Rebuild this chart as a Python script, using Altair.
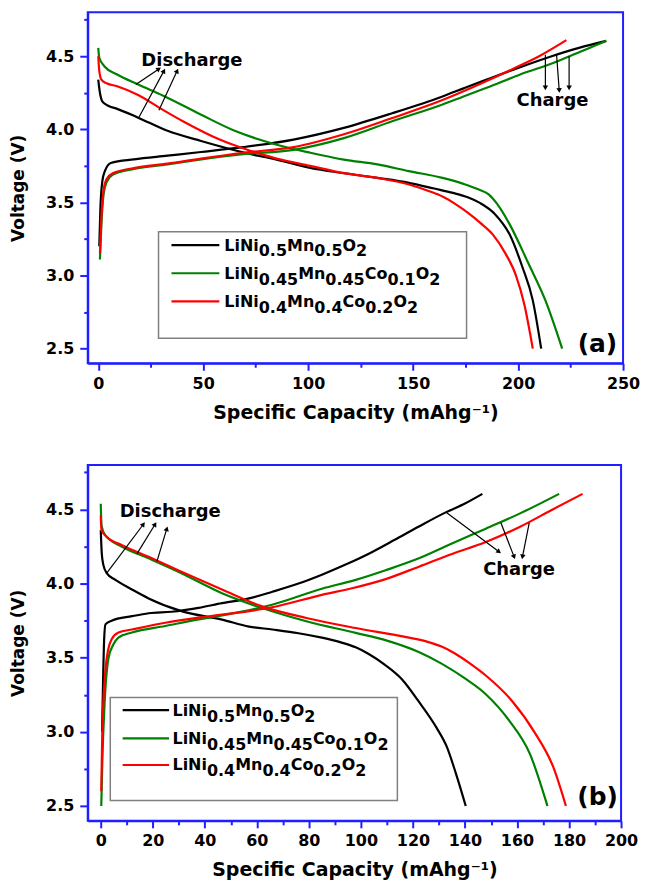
import math
import altair as alt
import pandas as pd

FONT = "DejaVu Sans"
BLUE = "#1f1fff"
NAMES = ["LiNi0.5Mn0.5O2", "LiNi0.45Mn0.45Co0.1O2", "LiNi0.4Mn0.4Co0.2O2"]
COLORS = ["#000000", "#008000", "#ff0000"]

# ---------------- panel (a) ----------------
a_blk_dis_cap = [0, 0.8, 2, 5, 9, 19, 33, 49, 65, 76, 85, 101, 117, 133, 148, 160, 169, 176, 182, 189, 196, 202, 207, 211]
a_blk_dis_v = [4.34, 4.25, 4.19, 4.16, 4.14, 4.08, 3.99, 3.92, 3.857, 3.82, 3.793, 3.736, 3.70, 3.668, 3.634, 3.595, 3.565, 3.535, 3.495, 3.42, 3.28, 3.06, 2.83, 2.5]
a_grn_dis_cap = [0, 0.5, 3, 9, 19, 31, 49, 65, 85, 101, 117, 133, 148, 164, 174, 181, 186, 190, 196, 205, 213, 221]
a_grn_dis_v = [4.557, 4.49, 4.43, 4.375, 4.307, 4.23, 4.10, 3.99, 3.895, 3.84, 3.793, 3.76, 3.714, 3.668, 3.627, 3.59, 3.555, 3.49, 3.35, 3.08, 2.83, 2.5]
a_red_dis_cap = [0, 0.5, 1.5, 4, 9, 19, 30, 41, 57, 72, 85, 101, 117, 133, 148, 158, 164, 170, 176, 182, 188, 194, 199, 203, 207]
a_red_dis_v = [4.5, 4.40, 4.34, 4.315, 4.295, 4.235, 4.14, 4.05, 3.935, 3.855, 3.80, 3.75, 3.70, 3.668, 3.623, 3.575, 3.54, 3.49, 3.43, 3.36, 3.28, 3.15, 3.0, 2.80, 2.5]
a_blk_chg_cap = [0.5, 1, 2, 3.2, 6, 17, 33, 49, 69, 93, 117, 140, 164, 174, 185, 200, 216, 229, 242]
a_blk_chg_v = [3.2, 3.45, 3.65, 3.716, 3.77, 3.795, 3.82, 3.845, 3.878, 3.93, 4.01, 4.11, 4.225, 4.28, 4.34, 4.42, 4.50, 4.557, 4.605]
a_grn_chg_cap = [0.8, 1.5, 2.5, 4, 7, 17, 33, 49, 69, 93, 117, 140, 164, 174, 185, 201, 217, 232, 242]
a_grn_chg_v = [3.11, 3.35, 3.55, 3.64, 3.69, 3.73, 3.76, 3.795, 3.83, 3.86, 3.94, 4.055, 4.17, 4.225, 4.284, 4.375, 4.455, 4.545, 4.605]
a_red_chg_cap = [0.8, 1.5, 2.5, 4, 7, 17, 33, 49, 69, 93, 117, 140, 164, 174, 185, 197, 210, 223]
a_red_chg_v = [3.15, 3.4, 3.58, 3.66, 3.70, 3.735, 3.765, 3.80, 3.84, 3.878, 3.966, 4.077, 4.20, 4.26, 4.33, 4.41, 4.5, 4.61]

a_arrow_x0 = [17.9, 19.4, 28.9, 213, 218.3, 224.3]
a_arrow_y0 = [4.306, 4.083, 4.13, 4.51, 4.515, 4.50]
a_arrow_x1 = [28.9, 31.3, 37.6, 213, 219.6, 224.3]
a_arrow_y1 = [4.413, 4.40, 4.40, 4.284, 4.266, 4.284]
a_labels = ["Discharge", "Charge", "(a)"]
a_label_x = [44.6, 216.4, 237.8]
a_label_y = [4.466, 4.197, 2.53]

# ---------------- panel (b) ----------------
b_blk_dis_cap = [0, 0.4, 1, 2.3, 5.5, 12, 18.4, 31, 46.6, 57, 66, 76, 85, 92, 98, 103, 109, 116, 122, 129, 133, 136.5, 140.3]
b_blk_dis_v = [4.36, 4.2, 4.126, 4.07, 4.026, 3.96, 3.90, 3.814, 3.757, 3.71, 3.69, 3.665, 3.635, 3.605, 3.57, 3.525, 3.455, 3.35, 3.21, 3.03, 2.90, 2.72, 2.5]
b_grn_dis_cap = [0, 0.3, 1.7, 8, 18.4, 31, 46.6, 62, 79, 98, 110, 122, 131, 140, 148, 157, 165, 171.7]
b_grn_dis_v = [4.538, 4.39, 4.326, 4.25, 4.17, 4.07, 3.935, 3.835, 3.746, 3.667, 3.615, 3.54, 3.46, 3.36, 3.254, 3.076, 2.85, 2.5]
b_red_dis_cap = [0, 0.3, 2.3, 8, 18.4, 31, 46.6, 62, 79, 98, 117, 126, 131, 136, 142, 148, 158, 167, 174, 178.8]
b_red_dis_v = [4.46, 4.36, 4.315, 4.26, 4.18, 4.08, 3.96, 3.846, 3.768, 3.70, 3.64, 3.605, 3.575, 3.53, 3.46, 3.38, 3.21, 2.99, 2.76, 2.5]
b_blk_chg_cap = [0.5, 0.9, 1.3, 1.8, 4.2, 12, 18.4, 27.3, 37.6, 46.6, 57, 66, 76, 85, 95, 104, 113, 122.3, 132.6, 140, 146.7]
b_blk_chg_v = [3.0, 3.35, 3.62, 3.725, 3.75, 3.78, 3.80, 3.81, 3.836, 3.868, 3.90, 3.945, 4.0, 4.06, 4.135, 4.21, 4.295, 4.385, 4.48, 4.54, 4.605]
b_grn_chg_cap = [0.2, 0.6, 1.5, 3, 4.9, 6.8, 12, 24.8, 37.6, 46.6, 65.8, 85, 98, 109.5, 122.3, 135, 148, 160.8, 176.2]
b_grn_chg_v = [2.5, 2.8, 3.2, 3.5, 3.59, 3.636, 3.67, 3.714, 3.758, 3.785, 3.857, 3.965, 4.025, 4.09, 4.17, 4.27, 4.37, 4.47, 4.605]
b_red_chg_cap = [0.2, 0.6, 1.5, 2.8, 4.2, 6.8, 12, 24.8, 37.6, 46.6, 65.8, 85, 97, 109.5, 122.3, 135, 148, 160.8, 173.7, 185.2]
b_red_chg_v = [2.6, 3.0, 3.35, 3.55, 3.625, 3.67, 3.69, 3.736, 3.77, 3.79, 3.84, 3.924, 3.97, 4.03, 4.114, 4.20, 4.28, 4.38, 4.50, 4.605]

b_arrow_x0 = [2.3, 13.9, 21.6, 132.6, 153.8, 164.7]
b_arrow_y0 = [4.07, 4.20, 4.15, 4.483, 4.41, 4.41]
b_arrow_x1 = [16.4, 20.9, 25.4, 153.1, 158.9, 162.1]
b_arrow_y1 = [4.40, 4.40, 4.37, 4.214, 4.18, 4.18]
b_labels = ["Discharge", "Charge", "(b)"]
b_label_x = [26.7, 160.8, 191]
b_label_y = [4.483, 4.09, 2.56]

# legend entries: (text, is_subscript)
LEGEND_SEGMENTS = [
    [("LiNi", 0), ("0.5", 1), ("Mn", 0), ("0.5", 1), ("O", 0), ("2", 1)],
    [("LiNi", 0), ("0.45", 1), ("Mn", 0), ("0.45", 1), ("Co", 0), ("0.1", 1), ("O", 0), ("2", 1)],
    [("LiNi", 0), ("0.4", 1), ("Mn", 0), ("0.4", 1), ("Co", 0), ("0.2", 1), ("O", 0), ("2", 1)],
]
# DejaVu Sans Bold advance widths (em)
CW = {"L": 0.637, "i": 0.343, "N": 0.837, "M": 0.995, "n": 0.712, "O": 0.850,
      "C": 0.733, "o": 0.687, ".": 0.381}
for d in "0123456789":
    CW[d] = 0.696

Y_MAJOR = [2.5, 3.0, 3.5, 4.0, 4.5]
Y_MINOR = [2.75, 3.25, 3.75, 4.25, 4.75]
X_TITLE = "Specific Capacity (mAhg\u207b\u00b9)"


def panel(curves, xdom, xmajor, xminor, W, H, arrows, labels, leg):
    xs = alt.Scale(domain=xdom, nice=False, zero=False)
    ys = alt.Scale(domain=[2.4, 4.8], nice=False, zero=False)
    rows = []
    for name, kind, caps, vs in curves:
        for i, (c, v) in enumerate(zip(caps, vs)):
            rows.append({"cap": c, "v": v, "series": name, "curve": name + kind, "i": i})
    df = pd.DataFrame(rows)

    lines = alt.Chart(df).mark_line(strokeWidth=2.2, interpolate="monotone").encode(
        x=alt.X("cap:Q", scale=xs, axis=alt.Axis(
            orient="bottom", values=xmajor, format="d", title=X_TITLE, labelFlush=False,
            tickSize=7, labelPadding=5, titlePadding=12)),
        y=alt.Y("v:Q", scale=ys, axis=alt.Axis(
            orient="left", values=Y_MAJOR, format=".1f", title="Voltage (V)", tickSize=8,
            labelPadding=6, titlePadding=18, titleFontSize=17)),
        color=alt.Color("series:N", scale=alt.Scale(domain=NAMES, range=COLORS), legend=None),
        detail="curve:N",
        order="i:Q",
    )

    ax0, ay0, ax1, ay1 = arrows
    sx = W / (xdom[1] - xdom[0])
    sy = H / 2.4
    angs = []
    for a, b, c, d in zip(ax0, ay0, ax1, ay1):
        ang = math.degrees(math.atan2((c - a) * sx, (d - b) * sy)) % 360
        angs.append(ang)
    adf = pd.DataFrame({"x0": ax0, "y0": ay0, "x1": ax1, "y1": ay1, "ang": angs})

    arrow_rules = alt.Chart(adf).mark_rule(color="black", strokeWidth=1.2).encode(
        x=alt.X("x0:Q", scale=xs, axis=alt.Axis(
            orient="bottom", values=xminor, labels=False, domain=False, tickSize=4, title=None)),
        y=alt.Y("y0:Q", scale=ys, axis=alt.Axis(
            orient="left", values=Y_MINOR, labels=False, domain=False, tickSize=4, title=None)),
        x2="x1:Q", y2="y1:Q",
    )
    heads = alt.Chart(adf).mark_point(shape="triangle-up", filled=True, size=30,
                                      color="black", opacity=1).encode(
        x=alt.X("x1:Q", scale=xs, axis=None),
        y=alt.Y("y1:Q", scale=ys, axis=None),
        angle=alt.Angle("ang:Q", scale=None),
    )

    lt, lx, ly = labels
    tdf = pd.DataFrame({"t": lt, "x": lx, "y": ly, "fs": [18, 18, 25]})
    texts = alt.Chart(tdf).mark_text(font=FONT, fontWeight="bold", color="black",
                                     align="center", baseline="middle").encode(
        x=alt.X("x:Q", scale=xs, axis=None),
        y=alt.Y("y:Q", scale=ys, axis=None),
        text="t:N",
        size=alt.Size("fs:Q", scale=None),
    )

    # legend (pixel positions inside the plot area)
    box, line_x, text_x, row_y = leg
    bdf = pd.DataFrame([{"bx0": box[0], "bx1": box[1], "by0": box[2], "by1": box[3]}])
    legbox = alt.Chart(bdf).mark_rect(fill="white", stroke="#808080", strokeWidth=1.5).encode(
        x=alt.X("bx0:Q", scale=None, axis=None), x2="bx1:Q",
        y=alt.Y("by0:Q", scale=None, axis=None), y2="by1:Q",
    )
    ldf = pd.DataFrame({"lx0": [line_x[0]] * 3, "lx1": [line_x[1]] * 3, "ly": row_y, "c": COLORS})
    leglines = alt.Chart(ldf).mark_rule(strokeWidth=2.2).encode(
        x=alt.X("lx0:Q", scale=None, axis=None), x2="lx1:Q",
        y=alt.Y("ly:Q", scale=None, axis=None),
        color=alt.Color("c:N", scale=None),
    )
    fs = 16
    segs = []
    for ry, entry in zip(row_y, LEGEND_SEGMENTS):
        x = text_x
        for txt, sub in entry:
            segs.append({"t": txt, "tx": x, "ty": ry + (11.5 if sub else 5.5), "fs": fs})
            x += sum(CW[ch] for ch in txt) * fs
    sdf = pd.DataFrame(segs)
    sdf["t"] = sdf["t"].astype(str)
    legtext = alt.Chart(sdf).mark_text(font=FONT, fontWeight="bold", color="black",
                                       align="left", baseline="alphabetic").encode(
        x=alt.X("tx:Q", scale=None, axis=None),
        y=alt.Y("ty:Q", scale=None, axis=None),
        text="t:N",
        size=alt.Size("fs:Q", scale=None),
    )

    return alt.layer(legbox, lines, arrow_rules, heads, texts, leglines, legtext).resolve_axis(
        x="independent", y="independent").properties(width=W, height=H)


curves_a = [
    (NAMES[0], "d", a_blk_dis_cap, a_blk_dis_v), (NAMES[0], "c", a_blk_chg_cap, a_blk_chg_v),
    (NAMES[1], "d", a_grn_dis_cap, a_grn_dis_v), (NAMES[1], "c", a_grn_chg_cap, a_grn_chg_v),
    (NAMES[2], "d", a_red_dis_cap, a_red_dis_v), (NAMES[2], "c", a_red_chg_cap, a_red_chg_v),
]
curves_b = [
    (NAMES[0], "d", b_blk_dis_cap, b_blk_dis_v), (NAMES[0], "c", b_blk_chg_cap, b_blk_chg_v),
    (NAMES[1], "d", b_grn_dis_cap, b_grn_dis_v), (NAMES[1], "c", b_grn_chg_cap, b_grn_chg_v),
    (NAMES[2], "d", b_red_dis_cap, b_red_dis_v), (NAMES[2], "c", b_red_chg_cap, b_red_chg_v),
]

top = panel(curves_a, [-5, 250], [0, 50, 100, 150, 200, 250], [25, 75, 125, 175, 225],
            537, 352,
            (a_arrow_x0, a_arrow_y0, a_arrow_x1, a_arrow_y1),
            (a_labels, a_label_x, a_label_y),
            ((71, 380, 220, 327), (84, 132), 137, [233.4, 261.7, 290]))
bottom = panel(curves_b, [-5, 200], list(range(0, 201, 20)), list(range(10, 200, 20)),
               535, 357,
               (b_arrow_x0, b_arrow_y0, b_arrow_x1, b_arrow_y1),
               (b_labels, b_label_x, b_label_y),
               ((22.6, 310.6, 233.3, 336.7), (35, 81.6), 85, [246, 274.3, 301]))

chart = alt.vconcat(top, bottom, spacing=41).properties(
    padding={"left": 0, "top": 2, "right": 0, "bottom": 0}
).configure(font=FONT).configure_view(stroke=BLUE, strokeWidth=2).configure_axis(
    domainColor=BLUE, domainWidth=2, tickColor=BLUE, tickWidth=2, grid=False,
    labelFont=FONT, labelFontSize=16, labelFontWeight="bold", labelColor="black",
    titleFont=FONT, titleFontSize=19, titleFontWeight="bold", titleColor="black",
)

chart.save("out.html", embed_options={"renderer": "svg", "actions": False})
